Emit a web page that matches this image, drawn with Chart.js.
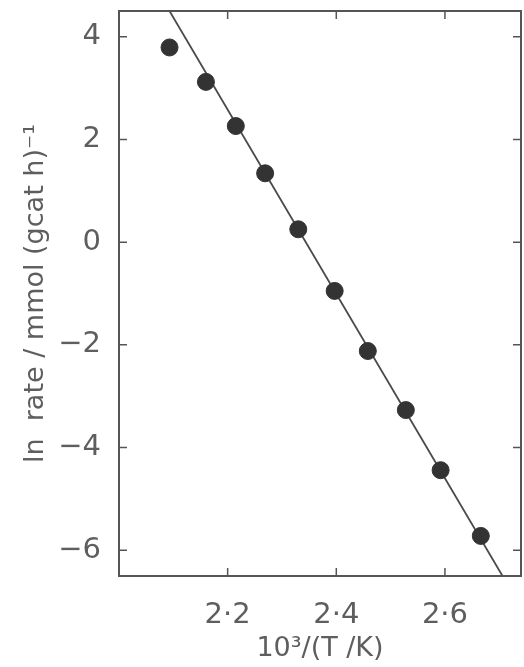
<!DOCTYPE html>
<html>
<head>
<meta charset="utf-8">
<script src="https://cdn.jsdelivr.net/npm/chart.js@4.4.1/dist/chart.umd.min.js"></script>
<style>
  html, body { margin: 0; padding: 0; background: #fff; overflow: hidden; }
  #wrap { width: 524px; height: 667px; position: relative; }
  canvas { display: block; }
</style>
</head>
<body>
<div id="wrap"><canvas id="grafikArrhenius"></canvas></div>
<script>
// data
var invT = [2.093, 2.160, 2.215, 2.269, 2.330, 2.397, 2.458, 2.528, 2.592, 2.666];
var lnRate = [3.79, 3.12, 2.26, 1.34, 0.25, -0.95, -2.12, -3.27, -4.44, -5.72];
var fitX = [2.093, 2.706];
var fitY = [4.5, -6.5];
var xTickValues = [2.2, 2.4, 2.6];
var xTickLabels = ['2·2', '2·4', '2·6'];
var yTickValues = [4, 2, 0, -2, -4, -6];
var yTickLabels = ['4', '2', '0', '−2', '−4', '−6'];

var inkText = '#5e5e5e';
var inkAxis = '#555555';

// frame + inward ticks on all four sides
var frameTicks = {
    id: 'frameTicks',
    afterDraw: function (chart) {
        var ctx = chart.ctx;
        var a = chart.chartArea;
        var xs = chart.scales.x, ys = chart.scales.y;
        var len = 8;
        ctx.save();
        ctx.strokeStyle = inkAxis;
        ctx.lineWidth = 2;
        ctx.strokeRect(a.left, a.top, a.right - a.left, a.bottom - a.top);
        ctx.lineWidth = 1.5;
        ctx.beginPath();
        xTickValues.forEach(function (v) {
            var px = xs.getPixelForValue(v);
            ctx.moveTo(px, a.bottom); ctx.lineTo(px, a.bottom - len);
            ctx.moveTo(px, a.top); ctx.lineTo(px, a.top + len);
        });
        yTickValues.forEach(function (v) {
            var py = ys.getPixelForValue(v);
            ctx.moveTo(a.left, py); ctx.lineTo(a.left + len, py);
            ctx.moveTo(a.right, py); ctx.lineTo(a.right - len, py);
        });
        ctx.stroke();
        ctx.restore();
    }
};

var points = invT.map(function (x, i) { return { x: x, y: lnRate[i] }; });
var fit = fitX.map(function (x, i) { return { x: x, y: fitY[i] }; });

new Chart(document.getElementById('grafikArrhenius').getContext('2d'), {
    type: 'scatter',
    data: {
        datasets: [{
            label: 'fit',
            data: fit,
            showLine: true,
            borderColor: '#4a4a4a',
            borderWidth: 1.8,
            pointRadius: 0,
            order: 2
        }, {
            label: 'ln rate',
            data: points,
            backgroundColor: '#333333',
            borderColor: '#333333',
            pointRadius: 8.5,
            order: 1
        }]
    },
    options: {
        responsive: true,
        maintainAspectRatio: false,
        animation: false,
        events: [],
        layout: {
            autoPadding: false,
            padding: { top: 11, right: 3, left: 0, bottom: 0 }
        },
        plugins: {
            legend: { display: false },
            tooltip: { enabled: false }
        },
        scales: {
            x: {
                type: 'linear',
                min: 2.0,
                max: 2.74,
                grid: { display: false },
                border: { display: false },
                afterBuildTicks: function (s) {
                    s.ticks = xTickValues.map(function (v) { return { value: v }; });
                },
                afterFit: function (s) {
                    s.height = 91;
                    s.paddingLeft = 0;
                    s.paddingRight = 0;
                },
                ticks: {
                    padding: 14,
                    color: inkText,
                    font: { family: 'DejaVu Sans', size: 29 },
                    callback: function (v) {
                        var i = xTickValues.indexOf(v);
                        return i >= 0 ? xTickLabels[i] : '';
                    }
                },
                title: {
                    display: true,
                    text: '10³/(T /K)',
                    color: inkText,
                    font: { family: 'DejaVu Sans', size: 27 },
                    padding: { top: 0, bottom: 2 }
                }
            },
            y: {
                type: 'linear',
                min: -6.5,
                max: 4.5,
                grid: { display: false },
                border: { display: false },
                afterBuildTicks: function (s) {
                    s.ticks = yTickValues.map(function (v) { return { value: v }; });
                },
                afterFit: function (s) {
                    s.width = 119;
                    s.paddingTop = 0;
                    s.paddingBottom = 0;
                },
                ticks: {
                    padding: 10,
                    color: inkText,
                    font: { family: 'DejaVu Sans', size: 29 },
                    callback: function (v) {
                        var i = yTickValues.indexOf(v);
                        return i >= 0 ? yTickLabels[i] : '';
                    }
                },
                title: {
                    display: true,
                    text: 'ln  rate / mmol (gcat h)⁻¹',
                    color: inkText,
                    font: { family: 'DejaVu Sans', size: 27 },
                    padding: { top: 20, bottom: 0 }
                }
            }
        }
    },
    plugins: [frameTicks]
});
</script>
</body>
</html>
